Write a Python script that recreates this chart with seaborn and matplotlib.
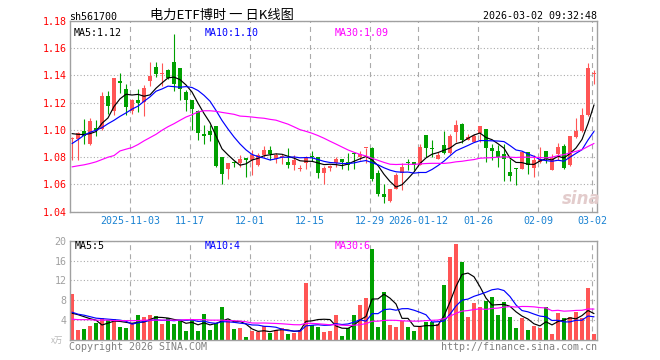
import numpy as np
import pandas as pd
import matplotlib
matplotlib.use("Agg")
import matplotlib.pyplot as plt
import seaborn as sns

# ---------------- data ----------------
opens = [1.0932, 1.0937, 1.0990, 1.0895, 1.1015, 1.1005, 1.1246, 1.1139, 1.1363, 1.1302,
         1.1137, 1.1217, 1.1205, 1.1361, 1.1463, 1.1410, 1.1437, 1.1502, 1.1454, 1.1278,
         1.1217, 1.1139, 1.0961, 1.0990, 1.1027, 1.0800, 1.0715, 1.0758, 1.0756, 1.0785,
         1.0776, 1.0744, 1.0817, 1.0851, 1.0785, 1.0802, 1.0763, 1.0744, 1.0712, 1.0761,
         1.0803, 1.0800, 1.0685, 1.0722, 1.0761, 1.0785, 1.0763, 1.0827, 1.0802, 1.0870,
         1.0868, 1.0681, 1.0529, 1.0476, 1.0563, 1.0685, 1.0756, 1.0763, 1.0746, 1.0961,
         1.0864, 1.0785, 1.0893, 1.0834, 1.0985, 1.1041, 1.0924, 1.0912, 1.0978, 1.1005,
         1.0868, 1.0846, 1.0822, 1.0693, 1.0722, 1.0712, 1.0839, 1.0722, 1.0766, 1.0844,
         1.0705, 1.0827, 1.0880, 1.0744, 1.0949, 1.0993, 1.1107, 1.1410]
highs = [1.0950, 1.0985, 1.1083, 1.1088, 1.1070, 1.1276, 1.1283, 1.1378, 1.1415, 1.1339,
         1.1224, 1.1302, 1.1327, 1.1502, 1.1498, 1.1495, 1.1451, 1.1705, 1.1454, 1.1290,
         1.1217, 1.1144, 1.1034, 1.1034, 1.1027, 1.0800, 1.0756, 1.0770, 1.0815, 1.0785,
         1.0851, 1.0829, 1.0880, 1.0880, 1.0832, 1.0822, 1.0866, 1.0815, 1.0744, 1.0810,
         1.0847, 1.0800, 1.0734, 1.0741, 1.0800, 1.0785, 1.0832, 1.0832, 1.0847, 1.0871,
         1.0873, 1.0705, 1.0607, 1.0568, 1.0685, 1.0758, 1.0785, 1.0766, 1.0900, 1.0961,
         1.0924, 1.0839, 1.0990, 1.0973, 1.1071, 1.1051, 1.0973, 1.0973, 1.1027, 1.1005,
         1.0900, 1.0888, 1.0895, 1.0790, 1.0722, 1.0839, 1.0839, 1.0815, 1.0876, 1.0844,
         1.0827, 1.0907, 1.0900, 1.0958, 1.1090, 1.1163, 1.1490, 1.1441]
lows = [1.0783, 1.0783, 1.0900, 1.0893, 1.0954, 1.1002, 1.1120, 1.1107, 1.1273, 1.1112,
        1.1117, 1.1132, 1.1100, 1.1322, 1.1388, 1.1324, 1.1376, 1.1285, 1.1222, 1.1137,
        1.0998, 1.0929, 1.0900, 1.0920, 1.0729, 1.0603, 1.0637, 1.0729, 1.0729, 1.0656,
        1.0668, 1.0734, 1.0802, 1.0778, 1.0754, 1.0749, 1.0724, 1.0705, 1.0702, 1.0715,
        1.0771, 1.0649, 1.0603, 1.0702, 1.0729, 1.0717, 1.0705, 1.0710, 1.0778, 1.0754,
        1.0627, 1.0515, 1.0466, 1.0471, 1.0563, 1.0561, 1.0705, 1.0705, 1.0746, 1.0798,
        1.0802, 1.0785, 1.0827, 1.0827, 1.0912, 1.0907, 1.0924, 1.0912, 1.0912, 1.0766,
        1.0783, 1.0729, 1.0627, 1.0627, 1.0595, 1.0710, 1.0676, 1.0656, 1.0754, 1.0754,
        1.0705, 1.0778, 1.0717, 1.0739, 1.0944, 1.0985, 1.1100, 1.1339]
closes = [1.0940, 1.0980, 1.0959, 1.1063, 1.0998, 1.1246, 1.1176, 1.1378, 1.1344, 1.1168,
          1.1217, 1.1200, 1.1310, 1.1393, 1.1412, 1.1412, 1.1385, 1.1339, 1.1300, 1.1217,
          1.1151, 1.0978, 1.0959, 1.0961, 1.0734, 1.0676, 1.0756, 1.0756, 1.0785, 1.0783,
          1.0817, 1.0817, 1.0851, 1.0822, 1.0815, 1.0803, 1.0744, 1.0783, 1.0724, 1.0798,
          1.0800, 1.0685, 1.0722, 1.0737, 1.0785, 1.0763, 1.0741, 1.0825, 1.0827, 1.0871,
          1.0642, 1.0529, 1.0505, 1.0563, 1.0666, 1.0727, 1.0754, 1.0746, 1.0876, 1.0871,
          1.0863, 1.0815, 1.0832, 1.0954, 1.1034, 1.0924, 1.0949, 1.0954, 1.1027, 1.0868,
          1.0846, 1.0800, 1.0790, 1.0663, 1.0710, 1.0839, 1.0741, 1.0783, 1.0790, 1.0790,
          1.0795, 1.0876, 1.0722, 1.0954, 1.0993, 1.1107, 1.1454, 1.1412]
volumes = [9.3, 2.1, 2.3, 2.9, 3.4, 4.4, 4.0, 4.3, 2.6, 2.5,
           3.4, 5.0, 4.6, 5.1, 4.8, 3.2, 4.4, 3.2, 4.1, 1.9,
           4.2, 1.9, 5.2, 2.0, 3.4, 6.6, 4.1, 2.2, 2.4, 0.7,
           1.8, 1.6, 2.8, 1.5, 2.0, 2.5, 1.3, 1.4, 2.1, 11.5,
           3.0, 2.6, 1.7, 1.8, 5.0, 0.8, 2.4, 5.0, 7.0, 8.5,
           18.3, 2.6, 9.7, 3.0, 2.7, 3.8, 2.6, 1.8, 2.7, 3.6,
           3.7, 3.2, 11.1, 16.7, 19.3, 15.7, 4.6, 7.4, 6.6, 7.9,
           8.7, 5.0, 7.7, 4.6, 2.4, 4.4, 2.0, 2.9, 2.5, 6.6,
           1.2, 5.4, 4.4, 4.7, 5.6, 4.5, 10.5, 1.3]

# moving-average values for the start (earlier data not shown)
price_ma5_head = [1.0973, 1.0968, 1.0966, 1.0973]
price_ma10_head = [1.0900, 1.0929, 1.0961, 1.0983, 1.0998, 1.1017, 1.1046, 1.1071, 1.1100]
price_ma30_head = [1.0729, 1.0737, 1.0744, 1.0754, 1.0766, 1.0783, 1.0800, 1.0812, 1.0846,
                   1.0859, 1.0871, 1.0893, 1.0920, 1.0944, 1.0968, 1.0998, 1.1024, 1.1046,
                   1.1071, 1.1095, 1.1112, 1.1132, 1.1141, 1.1141, 1.1137, 1.1129, 1.1122,
                   1.1115, 1.1102]
vol_ma5_head = [5.4, 5.1, 4.7, 4.3]
vol_ma10_head = [5.6, 5.2, 5.0, 4.7, 4.4, 4.3, 4.2, 4.1, 4.0]
vol_ma30_head = [4.2, 4.1, 4.1, 4.1, 4.0, 4.0, 4.0, 3.9, 3.9, 3.9, 3.9, 3.9, 4.0, 4.0, 4.0,
                 4.0, 4.0, 4.0, 4.0, 4.1, 4.1, 4.1, 4.1, 4.0, 4.0, 4.0, 3.9, 3.9, 3.8]

date_ticks = [10, 20, 30, 40, 50, 58, 68, 78, 87]
date_labels = ["2025-11-03", "11-17", "12-01", "12-15", "12-29",
               "2026-01-12", "01-26", "02-09", "03-02"]
price_ticks = [1.04, 1.06, 1.08, 1.10, 1.12, 1.14, 1.16, 1.18]
price_tick_labels = ["1.04", "1.06", "1.08", "1.10", "1.12", "1.14", "1.16", "1.18"]
vol_ticks = [0, 4, 8, 12, 16, 20]
vol_tick_labels = ["", "4", "8", "12", "16", "20"]

symbol = "sh561700"
title = "电力ETF博时 一 日K线图"
stamp = "2026-03-02 09:32:48"
price_ma_labels = ["MA5:1.12", "MA10:1.10", "MA30:1.09"]
vol_ma_labels = ["MA5:5", "MA10:4", "MA30:6"]
unit_label = "x万"
left_note = "Copyright 2026 SINA.COM"
right_note = "http://finance.sina.com.cn"

# ---------------- styling ----------------
RED = "#ff5555"
GREEN = "#00a000"
GRID = "#aaaaaa"
FRAME = "#a0a0a0"
BLUE_TXT = "#1a82d2"
MONO = ["DejaVu Sans Mono", "Noto Sans CJK SC"]
CJK = ["Noto Sans CJK SC", "DejaVu Sans"]

sns.set_theme(style="white")
plt.rcParams["font.family"] = MONO
plt.rcParams["lines.scale_dashes"] = False
plt.rcParams["axes.unicode_minus"] = False

W, H = 660, 360
fig = plt.figure(figsize=(W / 100, H / 100), dpi=100)
fig.patch.set_facecolor("white")


def fx(px):
    return px / W


def fy(py):
    return 1 - py / H


L, R = 70, 597
P_TOP, P_BOT = 21.0, 211.7
V_TOP, V_BOT = 240.7, 340.0
ax = fig.add_axes([fx(L), fy(P_BOT), (R - L) / W, (P_BOT - P_TOP) / H])
axv = fig.add_axes([fx(L), fy(V_BOT), (R - L) / W, (V_BOT - V_TOP) / H])

idx = np.arange(len(closes))
o = np.array(opens)
h = np.array(highs)
lo = np.array(lows)
c = np.array(closes)
up = c >= o
cols = np.where(up, RED, GREEN)


def moving_average(values, window, head):
    s = pd.Series(values, dtype=float).rolling(window).mean().to_numpy()
    s[:len(head)] = head
    return s


# ---------------- price panel ----------------
ax.vlines(idx, lo, h, colors=cols, linewidth=0.8, zorder=3)
body = np.maximum(np.abs(c - o), 0.0008)
ax.bar(idx, body, bottom=np.minimum(o, c), width=0.8, color=cols, linewidth=0, zorder=4)

for win, head, colr in [(5, price_ma5_head, "black"), (10, price_ma10_head, "#0000ff"),
                        (30, price_ma30_head, "#ff00ff")]:
    ma = moving_average(closes, win, head)
    sns.lineplot(x=idx, y=ma, color=colr, linewidth=0.85, ax=ax, zorder=5,
                 estimator=None, sort=False)

# ---------------- volume panel ----------------
dfv = pd.DataFrame({"i": idx, "vol": volumes, "dir": np.where(up, "up", "down")})
sns.barplot(data=dfv, x="i", y="vol", hue="dir", palette={"up": RED, "down": GREEN},
            native_scale=True, dodge=False, width=0.8, saturation=1, legend=False,
            errorbar=None, ax=axv, zorder=3, linewidth=0)
for win, head, colr in [(5, vol_ma5_head, "black"), (10, vol_ma10_head, "#0000ff"),
                        (30, vol_ma30_head, "#ff00ff")]:
    ma = moving_average(volumes, win, head)
    sns.lineplot(x=idx, y=ma, color=colr, linewidth=0.85, ax=axv, zorder=5,
                 estimator=None, sort=False)

# ---------------- axes formatting ----------------
grid_pos = np.array(date_ticks) - 0.33
for a in (ax, axv):
    a.set_xlim(-1 / 3, 87.5)
    a.set_facecolor("white")
    a.set_xlabel("")
    a.set_ylabel("")
    for sp in a.spines.values():
        sp.set_color(FRAME)
        sp.set_linewidth(1.0)
        sp.set_zorder(6)
    a.set_xticks(grid_pos)
    a.grid(False)
    a.grid(axis="x", color=GRID, linestyle=(0, (3.6, 2.9)), linewidth=0.8, zorder=0)
    a.grid(axis="y", color=GRID, linestyle=(0, (0.8, 1.6)), linewidth=0.8, zorder=0)
    a.set_axisbelow(True)
    a.tick_params(length=0)

ax.set_ylim(1.04, 1.18)
ax.set_yticks(price_ticks)
ax.set_yticklabels(price_tick_labels, color="#ff0000", fontsize=7.2)
ax.set_xticklabels(date_labels, color=BLUE_TXT, fontsize=7.2)
ax.tick_params(axis="x", pad=3.1)
ax.tick_params(axis="y", pad=2.5)

axv.set_ylim(0, 20)
axv.set_yticks(vol_ticks)
axv.set_yticklabels(vol_tick_labels, color="#a0a0a0", fontsize=7.2)
axv.set_xticklabels([])
axv.tick_params(axis="y", pad=2.5)

# ---------------- texts ----------------
fig.text(fx(69.5), fy(16.5), symbol, fontsize=7.2, color="black", ha="left", va="center")
fig.text(fx(222), fy(15.6), title, fontsize=9.5, color="black", ha="center", va="center",
         family=CJK)
fig.text(fx(597), fy(16.4), stamp, fontsize=7.2, color="black", ha="right", va="center")

for (xp, colr), lab in zip([(73.7, "black"), (205, "#0000ff"), (335, "#ff00ff")], price_ma_labels):
    fig.text(fx(xp), fy(33), lab, fontsize=7.2, color=colr, ha="left", va="center")
for (xp, colr), lab in zip([(75, "black"), (205, "#0000ff"), (335, "#ff00ff")], vol_ma_labels):
    fig.text(fx(xp), fy(246), lab, fontsize=7.2, color=colr, ha="left", va="center")

fig.text(fx(63.5), fy(340.5), unit_label, fontsize=6, color="#b8b8b8", ha="right",
         va="center", family=CJK)
fig.text(fx(69), fy(346.5), left_note, fontsize=7.2, color="#808080", ha="left", va="center")
fig.text(fx(597), fy(346.5), right_note, fontsize=7.2, color="#808080", ha="right",
         va="center")
fig.text(fx(581), fy(199), "sina", fontsize=12, color="#e3cccc", ha="center", va="center",
         family=["DejaVu Sans"], fontweight="bold", fontstyle="italic", zorder=10)

fig.savefig("out.png", dpi=100, facecolor="white")
